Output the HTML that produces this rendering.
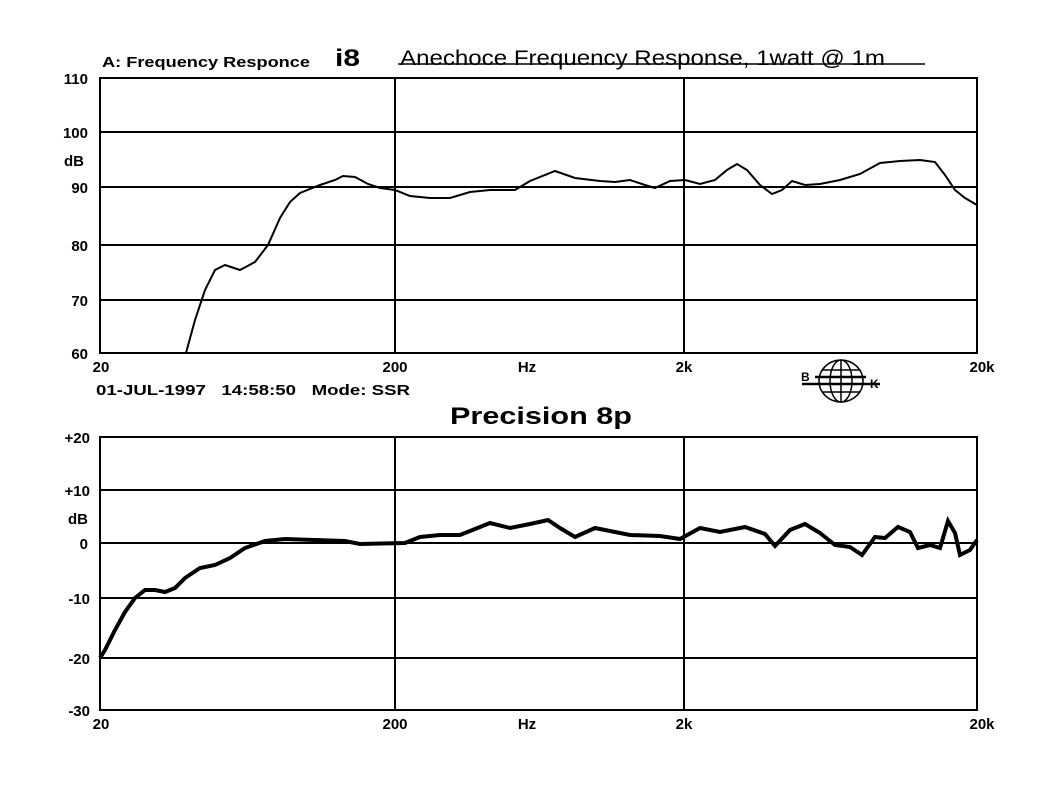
<!DOCTYPE html>
<html><head><meta charset="utf-8"><style>
body{margin:0;background:#fff}
svg text{font-family:"Liberation Sans",Arial,sans-serif;font-weight:bold;fill:#000}
</style></head><body>
<svg width="1050" height="796" viewBox="0 0 1050 796" xmlns="http://www.w3.org/2000/svg">
<rect width="1050" height="796" fill="#fff"/>
<g stroke="#000" stroke-width="2" fill="none">
<rect x="100" y="78" width="877" height="275"/>
<line x1="100" y1="132" x2="977" y2="132"/><line x1="100" y1="187" x2="977" y2="187"/>
<line x1="100" y1="245" x2="977" y2="245"/><line x1="100" y1="300" x2="977" y2="300"/>
<line x1="395" y1="78" x2="395" y2="353"/><line x1="684" y1="78" x2="684" y2="353"/>
<rect x="100" y="437" width="877" height="273"/>
<line x1="100" y1="490" x2="977" y2="490"/><line x1="100" y1="543" x2="977" y2="543"/>
<line x1="100" y1="598" x2="977" y2="598"/><line x1="100" y1="658" x2="977" y2="658"/>
<line x1="395" y1="437" x2="395" y2="710"/><line x1="684" y1="437" x2="684" y2="710"/>
<line x1="398" y1="64" x2="925" y2="64" stroke-width="1.5"/>
</g>
<polyline fill="none" stroke="#000" stroke-width="2" points="186,353 195,320 205,290 215,270 225,265 240,270 255,262 268,245 280,218 290,202 300,193 320,185 335,180 343,176 355,177 368,184 380,188 395,190 410,196 430,198 450,198 470,192 490,190 515,190 530,181 555,171 575,178 600,181 615,182 630,180 645,185 655,188 670,181 685,180 700,184 715,180 727,170 737,164 747,170 760,185 772,194 782,190 792,181 805,185 820,184 840,180 860,174 880,163 900,161 920,160 935,162 945,175 955,190 965,198 977,205"/>
<polyline fill="none" stroke="#000" stroke-width="4" points="100,658 105,650 115,630 125,612 135,598 145,590 155,590 165,592 175,588 185,578 200,568 215,565 230,558 245,548 265,541 285,539 345,541 360,544 405,543 420,537 440,535 460,535 480,527 490,523 510,528 530,524 548,520 560,528 575,537 595,528 610,531 630,535 660,536 680,539 700,528 720,532 745,527 765,534 775,546 790,530 805,524 820,533 835,545 850,547 862,555 875,537 885,538 898,527 910,532 918,548 930,545 940,548 948,521 955,533 960,555 970,550 977,540"/>
<text x="102" y="67" font-size="15" textLength="208" lengthAdjust="spacingAndGlyphs">A: Frequency Responce</text>
<text x="96" y="395" font-size="15" textLength="314" lengthAdjust="spacingAndGlyphs" xml:space="preserve">01-JUL-1997   14:58:50   Mode: SSR</text>
<text x="335" y="66" font-size="24" textLength="25" lengthAdjust="spacingAndGlyphs">i8</text>
<text x="400" y="65" font-size="21" style="font-weight:normal" textLength="485" lengthAdjust="spacingAndGlyphs">Anechoce Frequency Response, 1watt @ 1m</text>
<text x="450" y="424" font-size="24" textLength="182" lengthAdjust="spacingAndGlyphs">Precision 8p</text>
<g font-size="15" text-anchor="end">
<text x="88" y="84">110</text><text x="88" y="138">100</text><text x="84" y="166">dB</text>
<text x="88" y="193">90</text><text x="88" y="251">80</text><text x="88" y="306">70</text><text x="88" y="359">60</text>
<text x="90" y="443">+20</text><text x="90" y="496">+10</text><text x="88" y="524">dB</text>
<text x="88" y="549">0</text><text x="90" y="604">-10</text><text x="90" y="664">-20</text><text x="90" y="716">-30</text>
</g>
<g font-size="15" text-anchor="middle">
<text x="101" y="372">20</text><text x="395" y="372">200</text><text x="527" y="372">Hz</text><text x="684" y="372">2k</text><text x="982" y="372">20k</text>
<text x="101" y="729">20</text><text x="395" y="729">200</text><text x="527" y="729">Hz</text><text x="684" y="729">2k</text><text x="982" y="729">20k</text>
</g>
<g stroke="#000" fill="none" stroke-width="1.5">
<ellipse cx="841" cy="381" rx="22" ry="21"/>
<ellipse cx="841" cy="381" rx="11" ry="21"/>
<line x1="841" y1="360" x2="841" y2="402"/>
<line x1="822" y1="370" x2="860" y2="370"/><line x1="822" y1="392" x2="860" y2="392"/>
<line x1="802" y1="384" x2="880" y2="384" stroke-width="2.5"/>
<line x1="815" y1="377" x2="866" y2="377" stroke-width="2.5"/>
</g>
<text x="801" y="381" font-size="12">B</text><text x="870" y="388" font-size="12">K</text>
</svg>
</body></html>
